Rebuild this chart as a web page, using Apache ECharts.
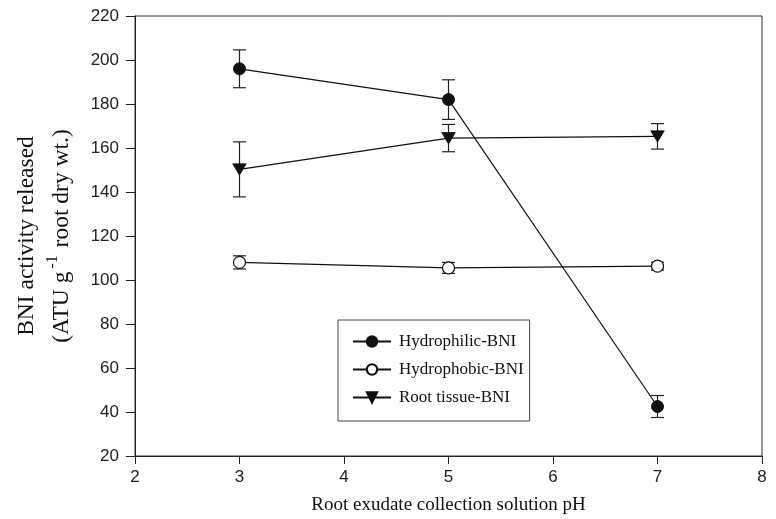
<!DOCTYPE html>
<html><head><meta charset="utf-8">
<script src="https://cdn.jsdelivr.net/npm/echarts@6/dist/echarts.min.js"></script>
<style>html,body{margin:0;padding:0;background:#fff}#c{width:776px;height:519px}</style>
</head><body><div id="c"></div>
<script>
const phValues = [3, 5, 7];
const hydrophilic = [196, 182, 42.5];
const hydrophilicErr = [8.6, 9, 5];
const hydrophobic = [108, 105.5, 106.3];
const hydrophobicErr = [3, 2.5, 1.8];
const rootTissue = [150.3, 164.5, 165.3];
const rootTissueErr = [12.5, 6.2, 5.8];
const seriesNames = ['Hydrophilic-BNI', 'Hydrophobic-BNI', 'Root tissue-BNI'];

const chart = echarts.init(document.getElementById('c'));
function pts(vals){ return phValues.map((x,i)=>[x, vals[i]]); }
function errs(vals, e){ return phValues.map((x,i)=>[x, vals[i]-e[i], vals[i]+e[i]]); }
function errSeries(vals, e){
  return {
    type:'custom', silent:true, z:1,
    data: errs(vals,e),
    renderItem: function(params, api){
      const x = api.value(0);
      const lo = api.coord([x, api.value(1)]);
      const hi = api.coord([x, api.value(2)]);
      const w = 6.5;
      const st = {stroke:'#222', lineWidth:1.2};
      return {type:'group', children:[
        {type:'line', shape:{x1:lo[0], y1:lo[1], x2:hi[0], y2:hi[1]}, style:st},
        {type:'line', shape:{x1:lo[0]-w, y1:lo[1], x2:lo[0]+w, y2:lo[1]}, style:st},
        {type:'line', shape:{x1:hi[0]-w, y1:hi[1], x2:hi[0]+w, y2:hi[1]}, style:st}
      ]};
    }
  };
}
const lineStyle = {color:'#111', width:1.2};
chart.setOption({
  animation:false,
  grid:{left:135, right:14, top:16, bottom:63, containLabel:false, outerBoundsMode:'none',
        show:true, borderColor:'#333', borderWidth:1},
  legend:{
    orient:'vertical', left:338, top:320,
    data:seriesNames,
    backgroundColor:'#fff', borderColor:'#444', borderWidth:1,
    padding:[13,6,15,14], itemGap:11, itemWidth:38, itemHeight:13,
    textStyle:{fontFamily:'Liberation Serif', fontSize:17, color:'#111', padding:[0,0,0,3]}
  },
  xAxis:{
    type:'value', min:2, max:8, interval:1,
    axisLine:{show:true, lineStyle:{color:'#222'}},
    axisTick:{show:true, inside:false, length:8, lineStyle:{color:'#222'}},
    axisLabel:{fontFamily:'Liberation Sans', fontSize:17, color:'#222', margin:13},
    splitLine:{show:false},
    name:'Root exudate collection solution pH', nameLocation:'middle', nameGap:40,
    nameTextStyle:{fontFamily:'Liberation Serif', fontSize:19, color:'#111'}
  },
  yAxis:{
    type:'value', min:20, max:220, interval:20,
    axisLine:{show:true, lineStyle:{color:'#222'}},
    axisTick:{show:true, inside:false, length:9, lineStyle:{color:'#222'}},
    axisLabel:{fontFamily:'Liberation Sans', fontSize:17, color:'#222', margin:16},
    splitLine:{show:false},
    name:'{a|BNI activity released}\n{a|(ATU g}{s|-1}{a| root dry wt.)}', nameLocation:'middle', nameGap:54,
    nameTextStyle:{fontFamily:'Liberation Serif', fontSize:23.5, color:'#111', lineHeight:35,
      rich:{a:{fontFamily:'Liberation Serif', fontSize:23.5, color:'#111', lineHeight:35}, s:{fontFamily:'Liberation Serif', fontSize:16, color:'#111', verticalAlign:'top', padding:[0,2,12,3]}}}
  },
  series:[
    errSeries(hydrophilic, hydrophilicErr),
    errSeries(hydrophobic, hydrophobicErr),
    errSeries(rootTissue, rootTissueErr),
    {name:seriesNames[0], type:'line', data:pts(hydrophilic), symbol:'circle', symbolSize:12, z:3,
     lineStyle:lineStyle, itemStyle:{color:'#111', borderColor:'#111', borderWidth:1}},
    {name:seriesNames[1], type:'line', data:pts(hydrophobic), symbol:'circle', symbolSize:12, z:3,
     lineStyle:lineStyle, itemStyle:{color:'#fff', borderColor:'#111', borderWidth:1.2}},
    {name:seriesNames[2], type:'line', data:pts(rootTissue), symbol:'triangle', symbolRotate:180, symbolSize:[13,11], z:3,
     lineStyle:lineStyle, itemStyle:{color:'#111', borderColor:'#111', borderWidth:1}}
  ]
});
</script></body></html>
